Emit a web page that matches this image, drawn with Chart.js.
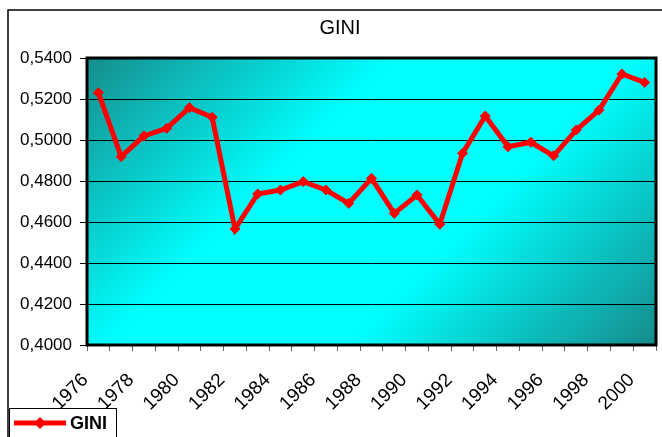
<!DOCTYPE html>
<html>
<head>
<meta charset="utf-8">
<script src="https://cdn.jsdelivr.net/npm/chart.js@4/dist/chart.umd.min.js"></script>
<style>
  html, body { margin: 0; padding: 0; background: #fff; }
  #chart { display: block; }
</style>
</head>
<body>
<canvas id="chart" width="662" height="437"></canvas>
<script>
// data
const years = ['1976', '1977', '1978', '1979', '1980', '1981', '1982', '1983', '1984',
  '1985', '1986', '1987', '1988', '1989', '1990', '1991', '1992', '1993', '1994',
  '1995', '1996', '1997', '1998', '1999', '2000'];
const gini = [0.5231, 0.4919, 0.5020, 0.5057, 0.5158, 0.5111, 0.4566, 0.4737, 0.4756,
  0.4797, 0.4756, 0.4691, 0.4813, 0.4642, 0.4732, 0.4589, 0.4935, 0.5117, 0.4967,
  0.4989, 0.4923, 0.5049, 0.5146, 0.5322, 0.5281];
const yTicks = [0.40, 0.42, 0.44, 0.46, 0.48, 0.50, 0.52, 0.54];

const font = '"Liberation Sans", Arial, sans-serif';

// background, frame, title, legend
const frame = {
  id: 'frame',
  beforeDraw(chart) {
    const ctx = chart.ctx;
    const a = chart.chartArea;
    ctx.save();
    ctx.fillStyle = '#fff';
    ctx.fillRect(0, 0, chart.width, chart.height);

    // outer chart border
    ctx.strokeStyle = '#000';
    ctx.lineWidth = 1.5;
    ctx.beginPath();
    ctx.moveTo(8, chart.height + 2);
    ctx.lineTo(8, 10);
    ctx.lineTo(chart.width + 2, 10);
    ctx.stroke();

    // title
    ctx.fillStyle = '#000';
    ctx.font = '20px ' + font;
    ctx.textAlign = 'center';
    ctx.textBaseline = 'middle';
    ctx.fillText('GINI', 340, 28);

    // plot fill
    const d = ((a.right - a.left) + (a.bottom - a.top)) / 2;
    const g = ctx.createLinearGradient(a.left, a.top, a.left + d, a.top + d);
    g.addColorStop(0, '#168c8c');
    g.addColorStop(0.36, '#00ffff');
    g.addColorStop(0.64, '#00ffff');
    g.addColorStop(1, '#168a8a');
    ctx.fillStyle = g;
    ctx.fillRect(a.left, a.top, a.right - a.left, a.bottom - a.top);
    ctx.restore();
  },
  beforeDatasetsDraw(chart) {
    const ctx = chart.ctx;
    const a = chart.chartArea;
    ctx.save();
    ctx.strokeStyle = '#000';
    ctx.lineWidth = 3;
    ctx.strokeRect(a.left, a.top, a.right - a.left, a.bottom - a.top);
    ctx.restore();
  },
  afterDraw(chart) {
    const ctx = chart.ctx;
    ctx.save();
    ctx.fillStyle = '#fff';
    ctx.fillRect(9, 408, 107, 32);
    ctx.strokeStyle = '#000';
    ctx.lineWidth = 1;
    ctx.strokeRect(9.5, 408.5, 107, 40);

    ctx.strokeStyle = '#ff0000';
    ctx.lineWidth = 5;
    ctx.beginPath();
    ctx.moveTo(14, 423);
    ctx.lineTo(66, 423);
    ctx.stroke();
    ctx.fillStyle = '#ff0000';
    ctx.beginPath();
    ctx.moveTo(40, 417);
    ctx.lineTo(46, 423);
    ctx.lineTo(40, 429);
    ctx.lineTo(34, 423);
    ctx.closePath();
    ctx.fill();

    ctx.fillStyle = '#000';
    ctx.font = 'bold 18px ' + font;
    ctx.textAlign = 'left';
    ctx.textBaseline = 'middle';
    ctx.fillText('GINI', 70, 424);
    ctx.restore();
  }
};

const ctx = document.getElementById('chart').getContext('2d');
const chart = new Chart(ctx, {
  type: 'line',
  data: {
    labels: years,
    datasets: [{
      label: 'GINI',
      data: gini,
      borderColor: '#ff0000',
      backgroundColor: '#ff0000',
      borderWidth: 5,
      tension: 0,
      fill: false,
      pointStyle: 'rectRot',
      pointRadius: 5,
      pointBackgroundColor: '#ff0000',
      pointBorderColor: '#ff0000',
      pointBorderWidth: 1
    }]
  },
  options: {
    responsive: false,
    animation: false,
    layout: { padding: { left: 0, top: 58, right: 2, bottom: 0 } },
    plugins: {
      legend: { display: false },
      title: { display: false },
      tooltip: { enabled: false }
    },
    scales: {
      x: {
        type: 'category',
        offset: true,
        border: { display: false },
        grid: {
          offset: true,
          drawOnChartArea: false,
          drawTicks: true,
          tickLength: 6,
          color: '#666',
          lineWidth: 1
        },
        ticks: {
          autoSkip: false,
          minRotation: 45,
          maxRotation: 45,
          labelOffset: -13,
          padding: 18,
          color: '#000',
          font: { family: font, size: 19 },
          callback(v, i) { return i % 2 === 0 ? years[i] : ''; }
        },
        afterFit(s) {
          s.height = 92;
          s.paddingLeft = 0;
          s.paddingRight = 0;
        }
      },
      y: {
        min: yTicks[0],
        max: yTicks[yTicks.length - 1],
        border: { display: false },
        grid: { color: '#000', lineWidth: 1, tickLength: 7 },
        afterBuildTicks(s) { s.ticks = yTicks.map(v => ({ value: v })); },
        ticks: {
          padding: 8,
          color: '#000',
          font: { family: font, size: 17 },
          callback(v) { return v.toFixed(4).replace('.', ','); }
        },
        afterFit(s) {
          s.width = 87;
          s.paddingTop = 0;
          s.paddingBottom = 0;
        }
      }
    }
  },
  plugins: [frame]
});
</script>
</body>
</html>
